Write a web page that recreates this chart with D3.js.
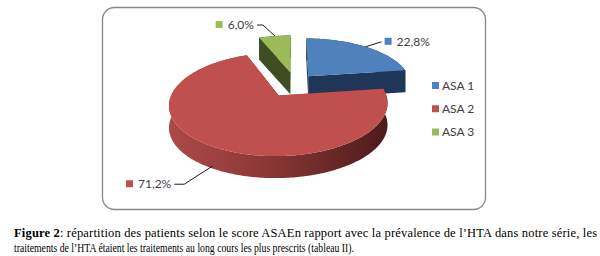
<!DOCTYPE html>
<html>
<head>
<meta charset="utf-8">
<script src="https://cdn.jsdelivr.net/npm/d3@7/dist/d3.min.js"></script>
<style>
  html, body { margin: 0; padding: 0; background: #fff; }
  svg { display: block; }
</style>
</head>
<body>
<svg id="chart" width="600" height="256"></svg>
<script>
// data
var categories = ["ASA 1", "ASA 2", "ASA 3"];
var values = [22.8, 71.2, 6.0];
var topColors = ["#4F81BD", "#C0504D", "#9BBB59"];
var sideColors = ["#1F3659", "url(#redSide)", "#3E4E22"];
var captionLines = [
  [{t: "Figure 2", b: true}, {t: ": répartition des patients selon le score ASAEn rapport avec la prévalence de l\u2019HTA dans notre série, les", b: false}],
  [{t: "traitements de l\u2019HTA étaient les traitements au long cours les plus prescrits (tableau II).", b: false}]
];

// pie geometry (3d look, light perspective)
var cx = 295, cy = 83, rx = 103, ry = 46, persp = 0.165, depth = 22;
var explode = [0.2, 0.3, 0.25];

var svg = d3.select("#chart");
var defs = svg.append("defs");
var grad = defs.append("linearGradient").attr("id", "redSide")
  .attr("gradientUnits", "userSpaceOnUse")
  .attr("x1", 170).attr("y1", 0).attr("x2", 390).attr("y2", 0);
grad.append("stop").attr("offset", 0).attr("stop-color", "#AC4A48");
grad.append("stop").attr("offset", 0.45).attr("stop-color", "#8A3735");
grad.append("stop").attr("offset", 1).attr("stop-color", "#4A1B1A");

// chart frame
svg.append("rect")
  .attr("x", 102.5).attr("y", 7.5).attr("width", 383).attr("height", 202)
  .attr("rx", 12).attr("ry", 12)
  .attr("fill", "#fff").attr("stroke", "#878787").attr("stroke-width", 1.3);

function proj(x, y, z) {
  var s = 1 / (1 - persp * y);
  return [cx + rx * x * s, cy + ry * y * s + z * depth];
}

function flat(a, r, off) {
  return [off[0] + r * Math.sin(a), off[1] - r * Math.cos(a)];
}

var pie = d3.pie().sort(null).value(function(d) { return d; })
  .startAngle(0).endAngle(2 * Math.PI);
var arcs = pie(values);

arcs.forEach(function(d, i) {
  var mid = (d.startAngle + d.endAngle) / 2;
  d.off = [explode[i] * Math.sin(mid), -explode[i] * Math.cos(mid)];
  d.mid = mid;
  var n = Math.max(4, Math.round((d.endAngle - d.startAngle) * 60));
  d.rim = d3.range(n + 1).map(function(k) {
    return flat(d.startAngle + (d.endAngle - d.startAngle) * k / n, 1, d.off);
  });
});

var line = d3.line();
var gSide = svg.append("g"), gWall = svg.append("g"), gTop = svg.append("g");

arcs.forEach(function(d, i) {
  var up = d.rim.map(function(p) { return proj(p[0], p[1], 0); });
  var dn = d.rim.map(function(p) { return proj(p[0], p[1], 1); }).reverse();
  gSide.append("path").attr("d", line(up.concat(dn)) + "Z")
    .attr("fill", sideColors[i]);

  var c = d.off;
  [d.rim[0], d.rim[d.rim.length - 1]].forEach(function(p) {
    var pts = [proj(c[0], c[1], 0), proj(p[0], p[1], 0), proj(p[0], p[1], 1), proj(c[0], c[1], 1)];
    gWall.append("path").attr("d", line(pts) + "Z")
      .attr("fill", i == 1 ? "#7A2F2E" : sideColors[i]);
  });

  var topPts = [proj(c[0], c[1], 0)].concat(up);
  gTop.append("path").attr("d", line(topPts) + "Z").attr("fill", topColors[i]);
});

// data labels with leader lines
var fmt = function(v) { return d3.format(".1f")(v).replace(".", ",") + "%"; };
var labelPlace = [
  {dx: 16, dy: -5, tail: 0, side: 1, z: 0},
  {dx: -28, dy: 18, tail: -10, side: -1, z: 0.9},
  {dx: -12, dy: -11, tail: -6, side: -1, z: 0}
];
var gLab = svg.append("g").attr("font-family", "Lato, 'Open Sans', sans-serif")
  .attr("font-size", 12).attr("fill", "#404040");

arcs.forEach(function(d, i) {
  var lp = labelPlace[i];
  var p = flat(d.mid, 1, d.off);
  var a = proj(p[0], p[1], lp.z);
  var e = [a[0] + lp.dx, a[1] + lp.dy];
  var t = [e[0] + lp.tail, e[1]];
  gLab.append("path").attr("d", line([a, e, t]))
    .attr("fill", "none").attr("stroke", "#000").attr("stroke-width", 0.9);
  var txt = gLab.append("text").attr("y", t[1] + 4).text(fmt(values[i]));
  var w = txt.node().getComputedTextLength();
  var tx = lp.side > 0 ? t[0] + 15 : t[0] - 3 - w;
  txt.attr("x", tx);
  gLab.append("rect").attr("x", tx - 12).attr("y", t[1] - 4).attr("width", 7).attr("height", 7)
    .attr("fill", topColors[i]);
});

// legend
var legY = d3.scalePoint().domain(categories).range([85.5, 132]);
var leg = svg.append("g").attr("font-family", "Lato, 'Open Sans', sans-serif")
  .attr("font-size", 12).attr("fill", "#404040");
categories.forEach(function(c, i) {
  leg.append("rect").attr("x", 432).attr("y", legY(c) - 3.5).attr("width", 7).attr("height", 7)
    .attr("fill", topColors[i]);
  leg.append("text").attr("x", 442).attr("y", legY(c) + 4.2).text(c);
});

// caption under the chart
var capW = [583, 340];
var capAdj = ["spacing", "spacingAndGlyphs"];
captionLines.forEach(function(parts, li) {
  var txt = svg.append("text").attr("x", 14).attr("y", 237 + li * 15)
    .attr("font-family", "'Liberation Serif', 'Times New Roman', serif")
    .attr("font-size", 12.5).attr("fill", "#000")
    .attr("textLength", capW[li]).attr("lengthAdjust", capAdj[li]);
  parts.forEach(function(p) {
    txt.append("tspan").attr("font-weight", p.b ? "bold" : "normal").text(p.t);
  });
});
</script>
</body>
</html>
